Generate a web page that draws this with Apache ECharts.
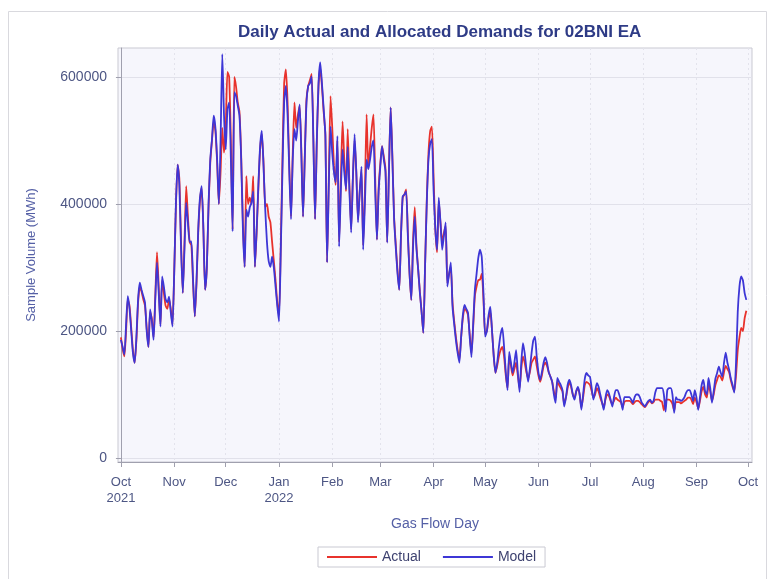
<!DOCTYPE html>
<html>
<head>
<meta charset="utf-8">
<title>Daily Actual and Allocated Demands for 02BNI EA</title>
<script src="https://cdn.jsdelivr.net/npm/echarts@6/dist/echarts.min.js"></script>
<style>
  html, body { margin: 0; padding: 0; background: #ffffff; }
  #chart { width: 767px; height: 579px; }
</style>
</head>
<body>
<div id="chart"></div>
<script>
// Gas flow days run from 1 Oct 2021 (day 0) to 30 Sep 2022 (day 364).
// Volumes are in thousands of MWh, one value per day.

// Month start offsets (days since 1 Oct 2021) and their tick labels
const monthStarts = [0, 31, 61, 92, 123, 151, 182, 212, 243, 273, 304, 335, 365];
const monthLabels = ['Oct\n2021', 'Nov', 'Dec', 'Jan\n2022', 'Feb', 'Mar', 'Apr',
                     'May', 'Jun', 'Jul', 'Aug', 'Sep', 'Oct'];
const yTicks = [0, 200000, 400000, 600000];

const actual = [
  // Oct
  190, 172, 160, 200, 250, 240, 205, 170, 150, 185, 245, 270, 262, 250, 240, 205, 175, 230, 220, 190, 255, 324, 270, 210, 280, 260, 240, 235, 250, 235, 210,
  // Nov
  290, 395, 462, 440, 340, 260, 340, 428, 380, 340, 335, 275, 223, 275, 355, 405, 425, 360, 265, 300, 395, 465, 500, 530, 515, 465, 400, 450, 520, 481,
  // Dec
  520, 608, 600, 500, 360, 600, 585, 560, 545, 475, 370, 301, 444, 400, 410, 400, 444, 301, 355, 425, 485, 510, 465, 395, 400, 380, 371, 340, 310, 280, 245,
  // Jan
  225, 330, 470, 590, 612, 560, 460, 380, 480, 560, 520, 540, 555, 485, 380, 475, 565, 586, 595, 605, 505, 376, 495, 585, 615, 585, 545, 510, 308, 440, 570,
  // Feb
  520, 460, 430, 500, 340, 440, 530, 470, 420, 518, 430, 360, 440, 500, 450, 375, 420, 455, 335, 420, 541, 455, 490, 520, 541, 440, 344, 425,
  // Mar
  465, 491, 475, 455, 340, 455, 552, 475, 380, 335, 295, 265, 350, 410, 415, 423, 355, 290, 249, 340, 395, 335, 297, 262, 230, 197, 300, 405, 480, 515, 522,
  // Apr
  440, 360, 324, 405, 370, 340, 355, 365, 275, 290, 300, 245, 215, 190, 170, 155, 190, 220, 235, 232, 225, 195, 165, 205, 255, 270, 280, 281, 290, 250,
  // May
  195, 200, 220, 230, 200, 160, 134, 145, 160, 170, 175, 160, 130, 110, 160, 145, 130, 140, 150, 130, 110, 140, 160, 150, 135, 125, 135, 150, 155, 160, 145,
  // Jun
  130, 120, 130, 145, 150, 145, 135, 128, 120, 105, 95, 120, 115, 110, 105, 85, 95, 110, 120, 112, 100, 95, 105, 110, 100, 80, 95, 115, 120, 118,
  // Jul
  115, 105, 95, 100, 110, 105, 95, 87, 80, 92, 100, 98, 90, 85, 90, 95, 92, 90, 88, 80, 88, 90, 90, 90, 88, 85, 88, 90, 90, 88, 85,
  // Aug
  82, 80, 84, 88, 90, 86, 88, 92, 92, 92, 90, 88, 75, 90, 92, 92, 90, 85, 75, 88, 88, 88, 86, 88, 90, 92, 95, 95, 92, 85, 95,
  // Sep
  88, 78, 90, 105, 112, 100, 95, 115, 105, 90, 100, 115, 123, 130, 128, 122, 135, 145, 140, 135, 122, 112, 105, 130, 170, 190, 205, 200, 220, 232
];

const model = [
  // Oct
  186, 175, 163, 210, 255, 235, 200, 165, 150, 190, 250, 276, 265, 255, 245, 200, 175, 234, 215, 186, 250, 308, 260, 207, 286, 270, 250, 245, 254, 230, 207,
  // Nov
  290, 400, 462, 430, 330, 260, 330, 402, 370, 340, 341, 280, 223, 280, 360, 410, 428, 360, 265, 300, 400, 470, 502, 539, 520, 470, 400, 500, 636, 540,
  // Dec
  486, 549, 560, 470, 357, 576, 570, 555, 539, 470, 360, 301, 391, 380, 395, 402, 420, 301, 360, 430, 490, 515, 460, 391, 340, 310, 301, 317, 300, 270, 240,
  // Jan
  215, 320, 450, 560, 586, 540, 450, 376, 470, 518, 500, 530, 557, 480, 380, 470, 560, 586, 590, 601, 500, 376, 500, 590, 623, 590, 550, 507, 308, 430, 522,
  // Feb
  480, 450, 434, 507, 333, 420, 486, 450, 423, 490, 420, 355, 440, 510, 450, 371, 420, 459, 328, 400, 470, 455, 470, 490, 500, 420, 344, 420,
  // Mar
  460, 491, 470, 450, 339, 450, 552, 470, 376, 330, 290, 265, 350, 412, 415, 420, 350, 290, 249, 330, 380, 330, 297, 260, 230, 197, 300, 400, 470, 495, 502,
  // Apr
  420, 360, 328, 410, 370, 328, 350, 371, 270, 290, 308, 238, 210, 185, 165, 150, 190, 225, 241, 235, 229, 190, 159, 210, 265, 290, 315, 328, 317, 260,
  // May
  191, 200, 225, 238, 200, 160, 134, 150, 175, 195, 205, 175, 135, 107, 167, 150, 134, 150, 170, 135, 104, 150, 181, 165, 140, 120, 140, 165, 185, 191, 160,
  // Jun
  135, 123, 135, 150, 159, 150, 135, 128, 120, 100, 87, 126, 120, 115, 107, 81, 95, 115, 123, 115, 100, 92, 105, 112, 100, 76, 100, 125, 134, 130,
  // Jul
  128, 110, 92, 105, 118, 112, 100, 88, 76, 95, 107, 102, 92, 81, 96, 107, 107, 100, 90, 76, 96, 96, 96, 96, 92, 87, 96, 100, 100, 96, 88,
  // Aug
  84, 81, 86, 90, 92, 87, 90, 103, 110, 110, 110, 110, 100, 73, 107, 110, 110, 100, 71, 96, 92, 92, 90, 92, 96, 103, 107, 107, 100, 90, 107,
  // Sep
  95, 76, 95, 115, 123, 105, 100, 126, 110, 87, 105, 125, 134, 144, 135, 128, 150, 166, 150, 139, 125, 115, 103, 150, 230, 270, 286, 280, 260, 249
];

const toPoints = arr => arr.map((v, i) => [i, v * 1000]);

const fontFamily = 'Liberation Sans, Arial, sans-serif';
const textColor = '#4d5684';
const axisNameColor = '#5560a6';

const chart = echarts.init(document.getElementById('chart'), null, { renderer: 'canvas' });

chart.setOption({
  backgroundColor: '#ffffff',
  animation: false,
  graphic: [{
    type: 'rect',
    left: 6, top: 9,
    shape: { width: 758, height: 568 },
    style: { fill: 'none', stroke: '#d9d9de', lineWidth: 1 },
    silent: true,
    z: -10
  }],
  title: {
    text: 'Daily Actual and Allocated Demands for 02BNI EA',
    left: 233,
    top: 19,
    textStyle: {
      fontFamily: fontFamily,
      fontSize: 17,
      fontWeight: 'bold',
      color: '#2e3b86'
    }
  },
  grid: {
    left: 118, right: 15, top: 48, bottom: 117,
    show: true,
    backgroundColor: '#f6f6fc',
    borderColor: '#c9c9d2',
    borderWidth: 1
  },
  xAxis: {
    type: 'value',
    min: -1.7,
    max: 367.3,
    name: 'Gas Flow Day',
    nameLocation: 'middle',
    nameGap: 55,
    nameTextStyle: { color: axisNameColor, fontSize: 14, fontFamily: fontFamily },
    axisLine: { onZero: false, lineStyle: { color: '#a0a0ae' } },
    axisTick: { customValues: monthStarts, length: 5, lineStyle: { color: '#a0a0ae' } },
    axisLabel: {
      customValues: monthStarts,
      formatter: v => monthLabels[monthStarts.indexOf(v)] || '',
      color: textColor,
      fontSize: 13,
      lineHeight: 16,
      margin: 12,
      fontFamily: fontFamily
    },
    splitLine: {
      show: true,
      customValues: monthStarts,
      lineStyle: { color: '#e3e3ec', type: [2, 3] }
    }
  },
  yAxis: {
    type: 'value',
    min: -6300,
    max: 645700,
    name: 'Sample Volume (MWh)',
    nameLocation: 'middle',
    nameGap: 80,
    nameTextStyle: { color: axisNameColor, fontSize: 13, fontFamily: fontFamily },
    axisLine: { show: true, lineStyle: { color: '#a0a0ae' } },
    axisTick: { show: true, customValues: yTicks, length: 5, lineStyle: { color: '#a0a0ae' } },
    axisLabel: {
      customValues: yTicks,
      formatter: v => String(v),
      color: textColor,
      fontSize: 14,
      margin: 11,
      fontFamily: fontFamily
    },
    splitLine: {
      show: true,
      customValues: yTicks,
      lineStyle: { color: '#e1e1ea' }
    }
  },
  legend: {
    data: ['Actual', 'Model'],
    left: 318,
    top: 547,
    icon: 'rect',
    itemWidth: 50,
    itemHeight: 2,
    itemGap: 22,
    padding: [3, 9],
    borderColor: '#c9c9d2',
    borderWidth: 1,
    textStyle: { color: '#3e4270', fontSize: 14, fontFamily: fontFamily }
  },
  series: [
    {
      name: 'Actual',
      type: 'line',
      data: toPoints(actual),
      showSymbol: false,
      smooth: 0.2,
      lineStyle: { color: '#e8322c', width: 1.8 },
      itemStyle: { color: '#e8322c' },
      z: 2
    },
    {
      name: 'Model',
      type: 'line',
      data: toPoints(model),
      showSymbol: false,
      smooth: 0.2,
      lineStyle: { color: '#3d36d6', width: 1.8 },
      itemStyle: { color: '#3d36d6' },
      z: 3
    }
  ]
});
</script>
</body>
</html>
